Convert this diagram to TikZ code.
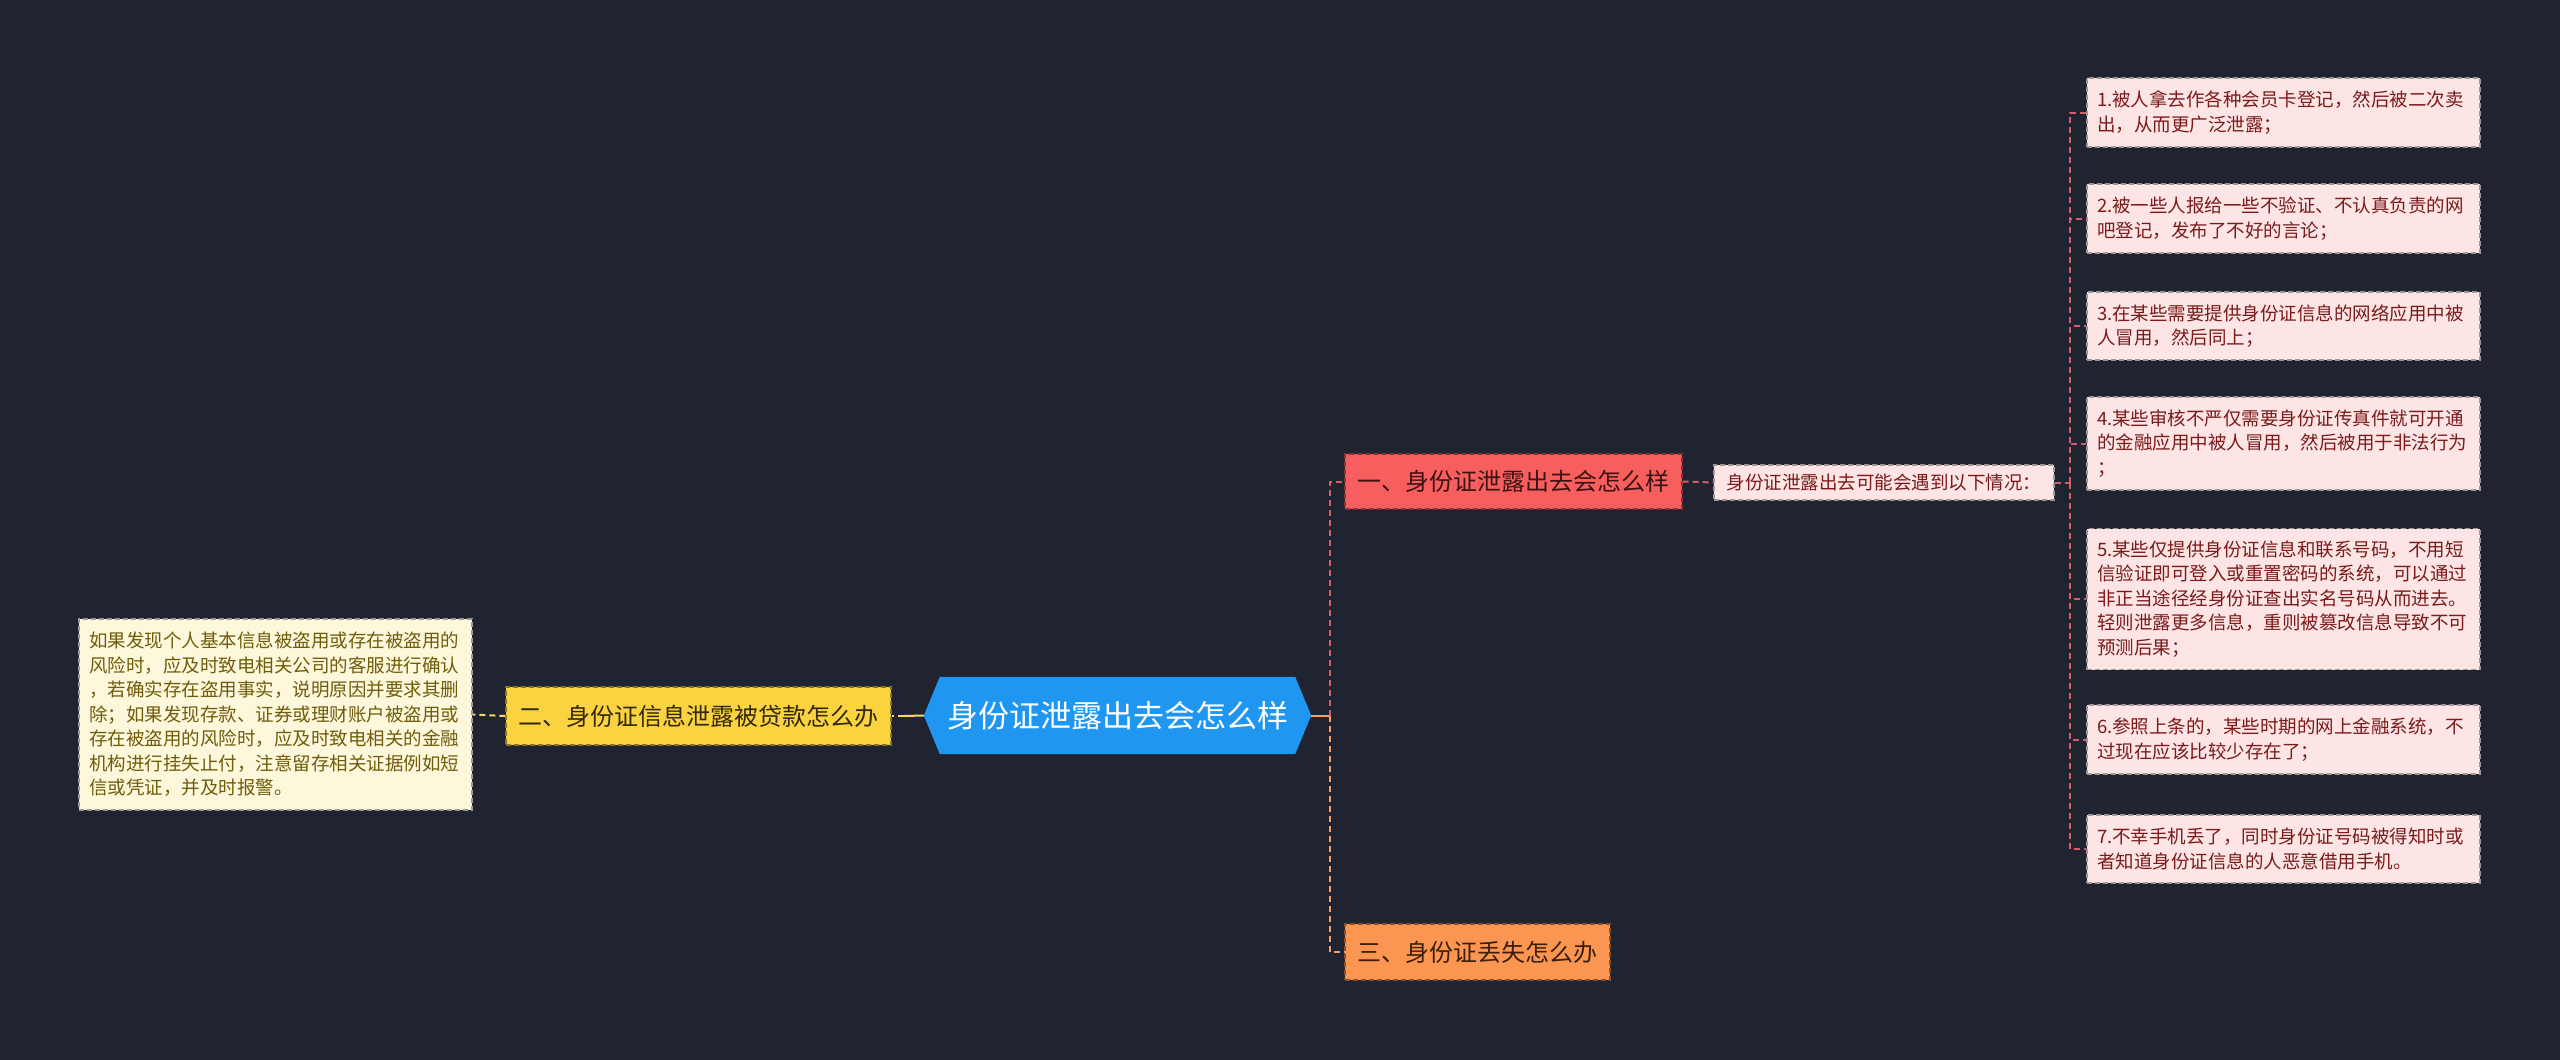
\documentclass[tikz,border=0pt]{standalone}
\usepackage{fontspec}
\setmainfont{Noto Sans CJK SC}
\pgfdeclarelayer{background}
\pgfsetlayers{background,main}
\definecolor{bgc}{RGB}{32,36,48}
\definecolor{rootblue}{RGB}{31,150,240}
\definecolor{redfill}{RGB}{247,94,94}
\definecolor{yelfill}{RGB}{251,211,65}
\definecolor{orafill}{RGB}{250,150,82}
\definecolor{pinkfill}{RGB}{253,229,229}
\definecolor{creamfill}{RGB}{253,247,220}
\definecolor{redtext}{RGB}{122,26,26}
\definecolor{olivetext}{RGB}{112,92,10}
\definecolor{redline}{RGB}{214,92,104}
\definecolor{oraline}{RGB}{244,160,100}
\definecolor{yelline}{RGB}{250,215,100}
\definecolor{leafborder}{RGB}{160,150,150}
\begin{document}
\begin{tikzpicture}[x=1pt,y=-1pt,
  dashline/.style={line width=2pt,dash pattern=on 6pt off 4pt},
  branchbox/.style={draw,line width=1.2pt,dash pattern=on 5pt off 3pt,inner sep=0pt,
    minimum height=56pt,font=\fontsize{24}{30}\selectfont},
  leafbox/.style={draw=leafborder,line width=1.2pt,dash pattern=on 5pt off 3pt,
    fill=pinkfill,text=redtext,align=left,text width=373pt,inner xsep=10pt,inner ysep=0pt,
    font=\fontsize{18.5}{24.5}\selectfont},
]
\begin{pgfonlayer}{background}
\fill[bgc] (0,0) rectangle (2560,1060);
\end{pgfonlayer}
\useasboundingbox (0,0) rectangle (2560,1060);

% root
\node[text=white,font=\fontsize{31}{36}\selectfont,minimum width=387pt,minimum height=77pt,inner sep=0pt] (root) at (1117.5,715.5) {身份证泄露出去会怎么样};
\begin{pgfonlayer}{background}
\fill[rootblue] (root.west) -- ([xshift=16pt]root.north west) -- ([xshift=-16pt]root.north east)
  -- (root.east) -- ([xshift=-16pt]root.south east) -- ([xshift=16pt]root.south west) -- cycle;
\end{pgfonlayer}

% branches
\node[branchbox,fill=redfill,draw=redfill!55!black,text={rgb,255:red,60;green,18;blue,18},minimum width=337pt,minimum height=55pt] (b1) at (1513.5,481.5) {一、身份证泄露出去会怎么样};
\node[branchbox,fill=yelfill,draw=yelfill!55!black,text={rgb,255:red,50;green,40;blue,10},minimum width=385pt,minimum height=58pt] (b2) at (698.5,716) {二、身份证信息泄露被贷款怎么办};
\node[branchbox,fill=orafill,draw=orafill!55!black,text={rgb,255:red,60;green,30;blue,10},minimum width=265pt,minimum height=56pt] (b3) at (1477.5,952) {三、身份证丢失怎么办};

% mid node
\node[draw=leafborder,line width=1.2pt,dash pattern=on 5pt off 3pt,fill=pinkfill,text=redtext,
  font=\fontsize{18.5}{24.5}\selectfont,minimum width=340pt,minimum height=35pt,inner sep=0pt] (mid) at (1884,482.5) {身份证泄露出去可能会遇到以下情况：};

% left leaf
\node[leafbox,draw=leafborder,fill=creamfill,text=olivetext,minimum height=191pt] (ll) at (275.5,714.5)
{如果发现个人基本信息被盗用或存在被盗用的\\风险时，应及时致电相关公司的客服进行确认\\，若确实存在盗用事实，说明原因并要求其删\\除；如果发现存款、证券或理财账户被盗用或\\存在被盗用的风险时，应及时致电相关的金融\\机构进行挂失止付，注意留存相关证据例如短\\信或凭证，并及时报警。};

% right leaves
\node[leafbox,minimum height=69pt] (r1) at (2283.5,112.5) {1.被人拿去作各种会员卡登记，然后被二次卖\\出，从而更广泛泄露；};
\node[leafbox,minimum height=69pt] (r2) at (2283.5,218.5) {2.被一些人报给一些不验证、不认真负责的网\\吧登记，发布了不好的言论；};
\node[leafbox,minimum height=68pt] (r3) at (2283.5,326) {3.在某些需要提供身份证信息的网络应用中被\\人冒用，然后同上；};
\node[leafbox,minimum height=93pt] (r4) at (2283.5,443.5) {4.某些审核不严仅需要身份证传真件就可开通\\的金融应用中被人冒用，然后被用于非法行为\\；};
\node[leafbox,minimum height=141pt] (r5) at (2283.5,599) {5.某些仅提供身份证信息和联系号码，不用短\\信验证即可登入或重置密码的系统，可以通过\\非正当途径经身份证查出实名号码从而进去。\\轻则泄露更多信息，重则被篡改信息导致不可\\预测后果；};
\node[leafbox,minimum height=69pt] (r6) at (2283.5,739.5) {6.参照上条的，某些时期的网上金融系统，不\\过现在应该比较少存在了；};
\node[leafbox,minimum height=68pt] (r7) at (2283.5,849) {7.不幸手机丢了，同时身份证号码被得知时或\\者知道身份证信息的人恶意借用手机。};

% connectors
\coordinate (jr) at (1330,715.5);
\draw[oraline,line width=2pt] (root.east) -- (jr);
\draw[redline,dashline] (jr) |- (b1.west);
\draw[oraline,dashline] (jr) |- (b3.west);

\coordinate (jl) at (904,716);
\draw[yelline,line width=2pt] (root.west) -- (jl);
\draw[yelline,dashline] (jl) -- (b2.east);
\draw[yelline,dashline] (b2.west) -- (ll.east);

\draw[redline,dashline] (b1.east) -- (mid.west);
\coordinate (jm) at (2070,482.5);
\draw[redline,dashline] (mid.east) -- (jm);
\foreach \n in {r1,r2,r3,r4,r5,r6,r7}
  \draw[redline,dashline] (jm) |- (\n.west);
\end{tikzpicture}
\end{document}
